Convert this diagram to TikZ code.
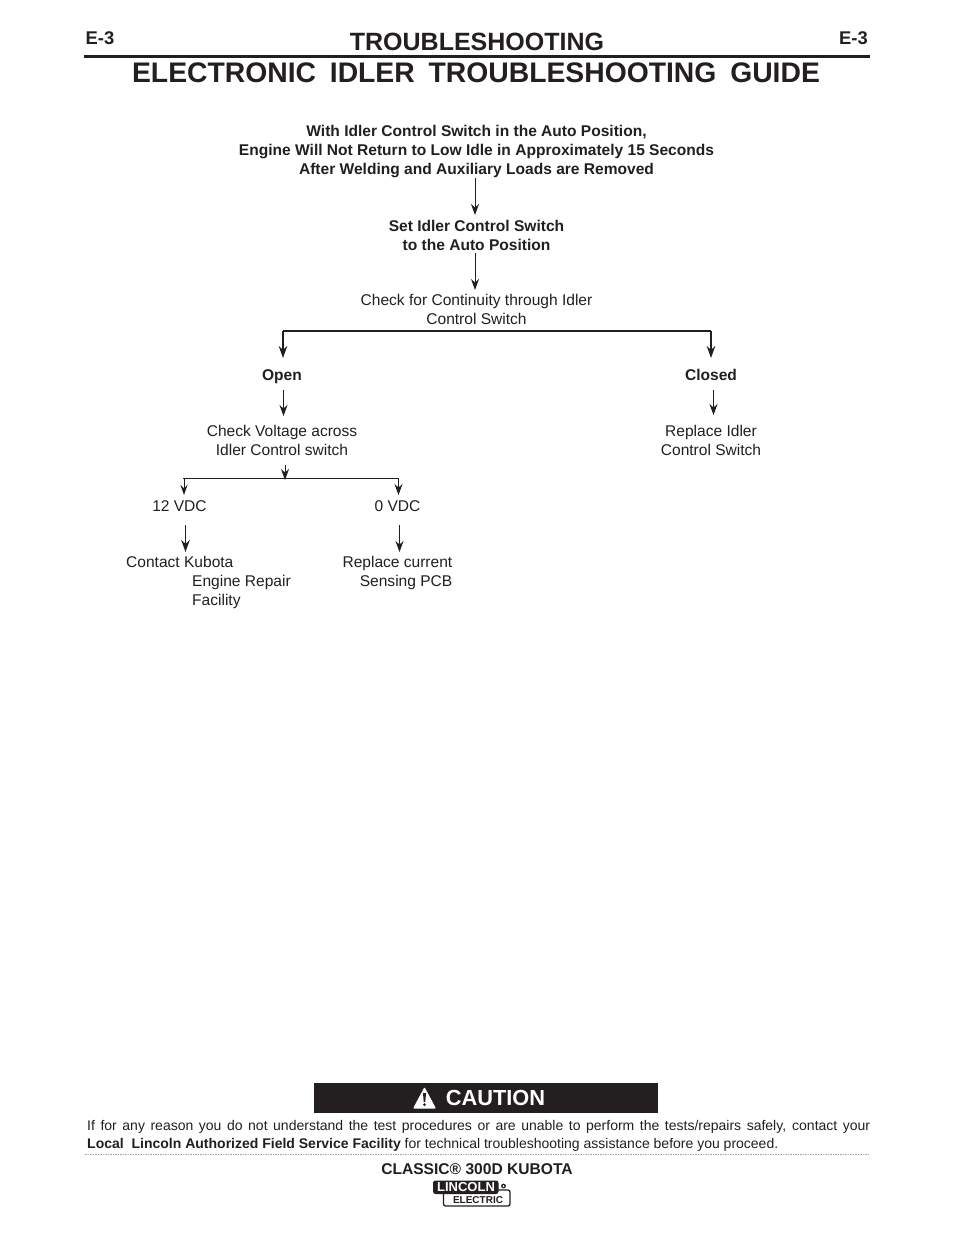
\documentclass[tikz,border=0pt]{standalone}
\usepackage{fontspec}
\setmainfont{Liberation Sans}
\usetikzlibrary{arrows.meta}
\definecolor{ink}{HTML}{231F20}
\newcommand{\fs}[1]{\fontsize{#1}{19}\selectfont}
\tikzset{x=1pt,y=-1pt,
 body/.style={inner sep=0pt,align=center,font=\fs{15.55},text=ink,anchor=center},
 bodyb/.style={inner sep=0pt,align=center,font=\fs{15.55}\bfseries,text=ink,anchor=center},
 arr/.style={line width=1pt,-{Stealth[length=11pt,width=8pt]},ink},
 arrb/.style={line width=1.8pt,-{Stealth[length=12pt,width=8.5pt]},ink},
 bar/.style={line width=2pt,ink},
 head/.style={inner sep=0pt,font=\fs{18.4}\bfseries,text=ink},
}
\begin{document}
\begin{tikzpicture}
\useasboundingbox (0,0) rectangle (954,1235);
\fill[white] (0,0) rectangle (954,1235);
% header
\node[head] (el) at (100,38) {E-3};
\node[head] (er) at (853.5,38) {E-3};
\node[inner sep=0pt,font=\fs{25}\bfseries,text=ink] (t1) at (477,41.5) {TROUBLESHOOTING};
\node[inner sep=0pt,font=\fs{28.3}\bfseries,text=ink] (t2) at (476,72.5) {ELECTRONIC\hspace{6pt} IDLER\hspace{6pt} TROUBLESHOOTING\hspace{6pt} GUIDE};
\coordinate (ra) at (84,56); \coordinate (rb) at (870,56);
\draw[line width=3pt,ink] (ra) -- (rb);
% flow
\node[bodyb] (a) at (476.5,152) {With Idler Control Switch in the Auto Position,\\Engine Will Not Return to Low Idle in Approximately 15 Seconds\\After Welding and Auxiliary Loads are Removed};
\node[bodyb] (b) at (476.5,235) {Set Idler Control Switch\\to the Auto Position};
\node[body] (c) at (476.5,309) {Check for Continuity through Idler\\Control Switch};
\coordinate (a1) at (475,178); \coordinate (b0) at (475,215);
\coordinate (b1) at (475,253); \coordinate (c0) at (475,290);
\draw[arr] (a1) -- (b0);
\draw[arr] (b1) -- (c0);
\coordinate (bl) at (283,331); \coordinate (br) at (711,331);
\coordinate (o0) at (283,358); \coordinate (q0) at (711,358);
\draw[bar] (bl) -- (br);
\draw[arrb] (bl) -- (o0);
\draw[arrb] (br) -- (q0);
\node[bodyb] (open) at (282,377) {Open};
\node[bodyb] (closed) at (711,375) {Closed};
\node[body] (d) at (282,440) {Check Voltage across\\Idler Control switch};
\node[body] (e) at (711,440) {Replace Idler\\Control Switch};
\coordinate (o1) at (283.5,390); \coordinate (d0) at (283.5,416);
\coordinate (q1) at (713.5,390); \coordinate (e0) at (713.5,415);
\draw[arr] (o1) -- (d0);
\draw[arr] (q1) -- (e0);
\coordinate (s0) at (285,465); \coordinate (s1) at (285,480);
\draw[arr] (s0) -- (s1);
\coordinate (vl) at (183,478.5); \coordinate (vr) at (399,478.5);
\coordinate (v12) at (184,495); \coordinate (v0) at (398.5,495);
\draw[line width=1.8pt,ink] (vl) -- (vr);
\draw[arr,-{Stealth[length=10pt,width=7pt]}] (vl -| v12) -- (v12);
\draw[arr] (vr -| v0) -- (v0);
\node[body] (n12) at (179.5,506) {12 VDC};
\node[body] (n0) at (397.5,506) {0 VDC};
\coordinate (f1) at (185.5,525); \coordinate (f2) at (185.5,552);
\coordinate (g1) at (399.5,525); \coordinate (g2) at (399.5,552);
\draw[arrb] (f1) -- (f2);
\draw[arr] (g1) -- (g2);
\node[body,anchor=west] (k1) at (126,562) {Contact Kubota};
\node[body,anchor=north west,align=left] (k2) at (192,575) {Engine Repair\\Facility};
\node[body,anchor=east,align=right] (r) at (452.5,573) {Replace current\\Sensing PCB};
% caution
\node[fill=ink,minimum width=344pt,minimum height=30pt,inner sep=0pt] (cb) at (486,1098) {};
\node[inner sep=0pt,font=\fs{21.8}\bfseries,text=white] (ct) at (495.5,1098) {CAUTION};
\fill[white,rounded corners=1pt] (424.5,1087) -- (436,1108.5) -- (413,1108.5) -- cycle;
\fill[ink] (423,1093) -- (426,1093) -- (425.3,1102) -- (423.7,1102) -- cycle;
\fill[ink] (424.5,1104.5) circle (1.5);
\node[inner sep=0pt,align=left,font=\fontsize{14}{18.5}\selectfont,text=ink,anchor=north west] (ft) at (87,1120) {\hbox to 783pt{If for any reason you do not understand the test procedures or are unable to perform the tests/repairs safely, contact your}\\{\bfseries Local\hspace{4pt} Lincoln Authorized Field Service Facility} for technical troubleshooting assistance before you proceed.};
\coordinate (da) at (85,1154); \coordinate (db) at (870,1154);
\draw[black!35,line width=0.7pt,dash pattern=on 1.5pt off 1pt] (da) -- (db);
\node[inner sep=0pt,font=\fs{15.6}\bfseries,text=ink] (cl) at (477,1169) {CLASSIC® 300D KUBOTA};
% logo
\draw[ink,line width=1.3pt,fill=white,rounded corners=2pt] (443.5,1190) rectangle (510,1206);
\fill[ink,rounded corners=2.5pt] (433,1180.5) rectangle (498.5,1194);
\node[inner sep=0pt,font=\fs{13}\bfseries,text=white] (l1) at (466,1187.3) {LINCOLN};
\node[inner sep=0pt,font=\fs{10}\bfseries,text=ink] (l2) at (478,1200) {ELECTRIC};
\fill[ink] (503.5,1186) circle (2.4);
\fill[white] (503.5,1186) circle (1);
\end{tikzpicture}
\end{document}
